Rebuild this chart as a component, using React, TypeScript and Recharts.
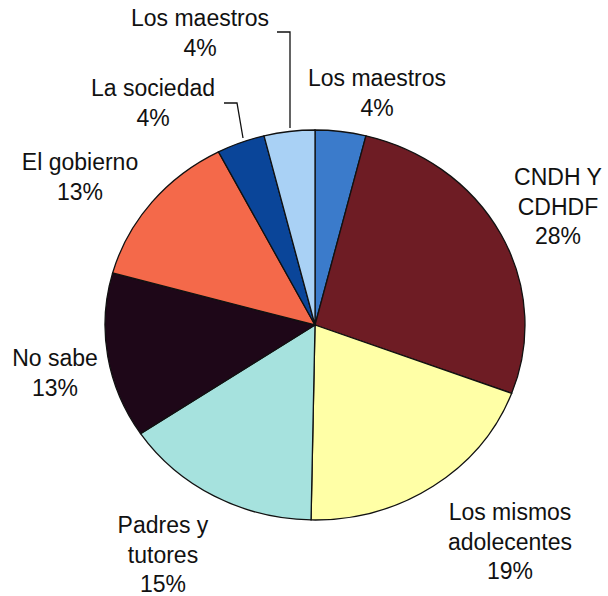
import React from 'react';
import { PieChart, Pie, Cell } from 'recharts';

// Categorías en orden horario desde las 12
const NAMES = [
  'Los maestros',
  'CNDH Y CDHDF',
  'Los mismos adolecentes',
  'Padres y tutores',
  'No sabe',
  'El gobierno',
  'La sociedad',
  'Los maestros',
];
const VALUES = [3.9, 26.8, 19.6, 15.3, 13.7, 13.1, 3.7, 3.9];
// Textos tal como aparecen en la gráfica
const LABEL_LINES = [
  ['Los maestros', '4%'],
  ['CNDH Y', 'CDHDF', '28%'],
  ['Los mismos', 'adolecentes', '19%'],
  ['Padres y', 'tutores', '15%'],
  ['No sabe', '13%'],
  ['El gobierno', '13%'],
  ['La sociedad', '4%'],
  ['Los maestros', '4%'],
];
const COLORS = ['#3B7BCB', '#6E1C24', '#FFFFA6', '#A6E2DE', '#1E0718', '#F4694A', '#0A4599', '#A9D1F5'];

// posición del centro de la primera línea de cada etiqueta
const LABEL_POS: [number, number][] = [
  [377, 78],
  [558, 177],
  [510, 512],
  [163, 525],
  [55, 358],
  [80, 162],
  [153, 88],
  [200, 18],
];
// líneas guía
const LEADERS: Record<number, [number, number][]> = {
  6: [[224, 103], [237, 103], [243, 138]],
  7: [[277, 32], [290, 32], [290, 128]],
};

const data = NAMES.map((name, i) => ({ name, value: VALUES[i] }));

const Y_SCALE = 195 / 210;
const RAD = Math.PI / 180;

// sector elíptico (la imagen original está algo estirada en horizontal)
const EllipseSector = (props: any) => {
  const { cx, cy, outerRadius, startAngle, endAngle, fill } = props;
  const rx = outerRadius;
  const ry = outerRadius * Y_SCALE;
  const x1 = cx + rx * Math.cos(startAngle * RAD);
  const y1 = cy - ry * Math.sin(startAngle * RAD);
  const x2 = cx + rx * Math.cos(endAngle * RAD);
  const y2 = cy - ry * Math.sin(endAngle * RAD);
  const large = Math.abs(startAngle - endAngle) > 180 ? 1 : 0;
  const sweep = startAngle > endAngle ? 1 : 0;
  const d = `M${cx},${cy} L${x1},${y1} A${rx},${ry} 0 ${large} ${sweep} ${x2},${y2} Z`;
  return <path d={d} fill={fill} stroke="#111" strokeWidth={1.3} />;
};

const renderLabel = (props: any) => {
  const { index } = props;
  const [x, y] = LABEL_POS[index];
  const lines = LABEL_LINES[index];
  const leader = LEADERS[index];
  return (
    <g key={`lbl-${index}`}>
      {leader && (
        <polyline
          points={leader.map((p) => p.join(',')).join(' ')}
          fill="none"
          stroke="#111"
          strokeWidth={1.3}
        />
      )}
      {lines.map((t, k) => (
        <text
          key={k}
          x={x}
          y={y + k * 29.5}
          textAnchor="middle"
          dominantBaseline="central"
          fontSize={23}
          fontFamily="'Liberation Sans', Arial, sans-serif"
          fill="#111"
        >
          {t}
        </text>
      ))}
    </g>
  );
};

export default function App() {
  return (
    <div style={{ position: 'absolute', left: 0, top: 0, width: 608, height: 596, background: '#fff' }}>
      <PieChart width={608} height={596} margin={{ top: 0, right: 0, bottom: 0, left: 0 }}>
        <Pie
          data={data}
          dataKey="value"
          nameKey="name"
          cx={315}
          cy={325}
          outerRadius={210}
          startAngle={90}
          endAngle={-270}
          shape={EllipseSector}
          label={renderLabel}
          labelLine={false}
          isAnimationActive={false}
        >
          {data.map((d, i) => (
            <Cell key={i} fill={COLORS[i]} />
          ))}
        </Pie>
      </PieChart>
    </div>
  );
}
